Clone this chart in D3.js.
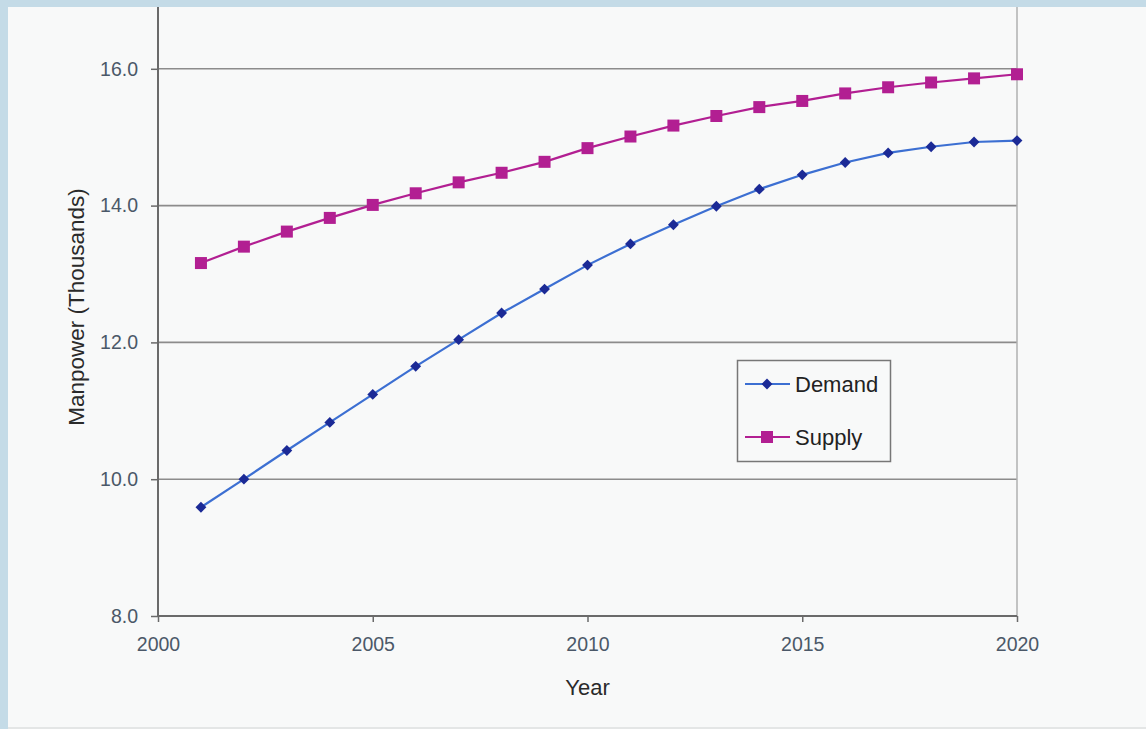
<!DOCTYPE html>
<html><head><meta charset="utf-8">
<script src="https://cdn.jsdelivr.net/npm/d3@7"></script>
<style>
html,body{margin:0;padding:0;background:#f8f9f9;}
svg{display:block;}
</style></head>
<body>
<svg id="chart" width="1146" height="729"></svg>
<script>
const years = [2001,2002,2003,2004,2005,2006,2007,2008,2009,2010,2011,2012,2013,2014,2015,2016,2017,2018,2019,2020];
const demand = [9.59,10.0,10.42,10.83,11.24,11.65,12.04,12.43,12.78,13.13,13.44,13.72,13.99,14.24,14.45,14.63,14.77,14.86,14.93,14.95];
const supply = [13.16,13.40,13.62,13.82,14.01,14.18,14.34,14.48,14.64,14.84,15.01,15.17,15.31,15.44,15.53,15.64,15.73,15.80,15.86,15.92];
const xTicks = [2000,2005,2010,2015,2020];
const yTicks = [8,10,12,14,16];
const seriesNames = ["Demand","Supply"];

const FONT = "Liberation Sans, Arial, sans-serif";
const svg = d3.select("#chart");
const left = 158, right = 1017, bottom = 616;
const x = d3.scaleLinear().domain([2000,2020]).range([left,right]);
const y = d3.scaleLinear().domain([8,18]).range([bottom, bottom - 10*68.4]);

svg.append("rect").attr("width",1146).attr("height",729).attr("fill","#f8f9f9");

// gridlines
svg.append("g").selectAll("line").data(yTicks.filter(d=>d>8)).join("line")
  .attr("x1",left).attr("x2",right).attr("y1",d=>y(d)).attr("y2",d=>y(d))
  .attr("stroke","#8c8c8c").attr("stroke-width",1.6);

// right border
svg.append("line").attr("x1",right).attr("x2",right).attr("y1",0).attr("y2",bottom)
  .attr("stroke","#b0b0b0").attr("stroke-width",1.5);

// y axis
const yAxis = d3.axisLeft(y).tickValues(yTicks).tickFormat(d3.format(".1f")).tickSize(7).tickPadding(13);
const gy = svg.append("g").attr("transform",`translate(${left},0)`).call(yAxis);
gy.select(".domain").remove();
svg.append("line").attr("x1",left).attr("x2",left).attr("y1",0).attr("y2",bottom)
  .attr("stroke","#6a6a6a").attr("stroke-width",2);
gy.selectAll(".tick line").attr("stroke","#6a6a6a").attr("stroke-width",1.5);
gy.selectAll(".tick text").attr("fill","#4b5868").attr("font-family",FONT).attr("font-size",19.5);

// x axis
const xAxis = d3.axisBottom(x).tickValues(xTicks).tickFormat(d3.format("d")).tickSize(6).tickPadding(15);
const gx = svg.append("g").attr("transform",`translate(0,${bottom})`).call(xAxis);
gx.select(".domain").remove();
svg.append("line").attr("x1",left).attr("x2",right).attr("y1",bottom).attr("y2",bottom)
  .attr("stroke","#6a6a6a").attr("stroke-width",2);
gx.selectAll(".tick line").attr("stroke","#6a6a6a").attr("stroke-width",1.5);
gx.selectAll(".tick text").attr("fill","#4b5868").attr("font-family",FONT).attr("font-size",19.5);

// axis titles
svg.append("text").attr("x",(left+right)/2).attr("y",695).attr("text-anchor","middle")
  .attr("font-family",FONT).attr("font-size",22).attr("fill","#2a2a2a").text("Year");
svg.append("text").attr("transform","translate(84,307) rotate(-90)").attr("text-anchor","middle")
  .attr("font-family",FONT).attr("font-size",22.5).attr("fill","#2a2a2a").text("Manpower (Thousands)");

const demandLine = "#3c6fd2", demandMark = "#1b2a96";
const supplyColor = "#b21f92";

const line = d3.line().x(d=>x(d[0])).y(d=>y(d[1]));
const dData = years.map((yr,i)=>[yr,demand[i]]);
const sData = years.map((yr,i)=>[yr,supply[i]]);

svg.append("path").datum(sData).attr("d",line).attr("fill","none").attr("stroke",supplyColor).attr("stroke-width",2.2);
svg.append("g").selectAll("rect").data(sData).join("rect")
  .attr("x",d=>x(d[0])-6).attr("y",d=>y(d[1])-6).attr("width",12).attr("height",12).attr("fill",supplyColor);

svg.append("path").datum(dData).attr("d",line).attr("fill","none").attr("stroke",demandLine).attr("stroke-width",2.2);
const diamond = d3.symbol().type(d3.symbolDiamond2).size(75);
svg.append("g").selectAll("path").data(dData).join("path")
  .attr("transform",d=>`translate(${x(d[0])},${y(d[1])})`).attr("d",diamond).attr("fill",demandMark);

// legend
const lg = svg.append("g");
lg.append("rect").attr("x",737.5).attr("y",360.5).attr("width",153).attr("height",101)
  .attr("fill","#f8f9f9").attr("stroke","#777").attr("stroke-width",1.5);
const rows = [{name:seriesNames[0],y:384,lc:demandLine,mc:demandMark,shape:"d"},{name:seriesNames[1],y:437,lc:supplyColor,mc:supplyColor,shape:"s"}];
rows.forEach(r=>{
  lg.append("line").attr("x1",745).attr("x2",790).attr("y1",r.y).attr("y2",r.y).attr("stroke",r.lc).attr("stroke-width",2.2);
  if(r.shape==="d"){
    lg.append("path").attr("transform",`translate(767,${r.y})`).attr("d",diamond).attr("fill",r.mc);
  } else {
    lg.append("rect").attr("x",761).attr("y",r.y-6).attr("width",12).attr("height",12).attr("fill",r.mc);
  }
  lg.append("text").attr("x",795).attr("y",r.y+8).attr("font-family",FONT)
    .attr("font-size",22).attr("fill","#222").text(r.name);
});

// blue frame
svg.append("rect").attr("x",0).attr("y",0).attr("width",1146).attr("height",7).attr("fill","#c4dbe7");
svg.append("rect").attr("x",0).attr("y",0).attr("width",8).attr("height",729).attr("fill","#c4dbe7");
svg.append("rect").attr("x",8).attr("y",727).attr("width",1138).attr("height",2).attr("fill","#e4e6e6");
</script>
</body></html>
